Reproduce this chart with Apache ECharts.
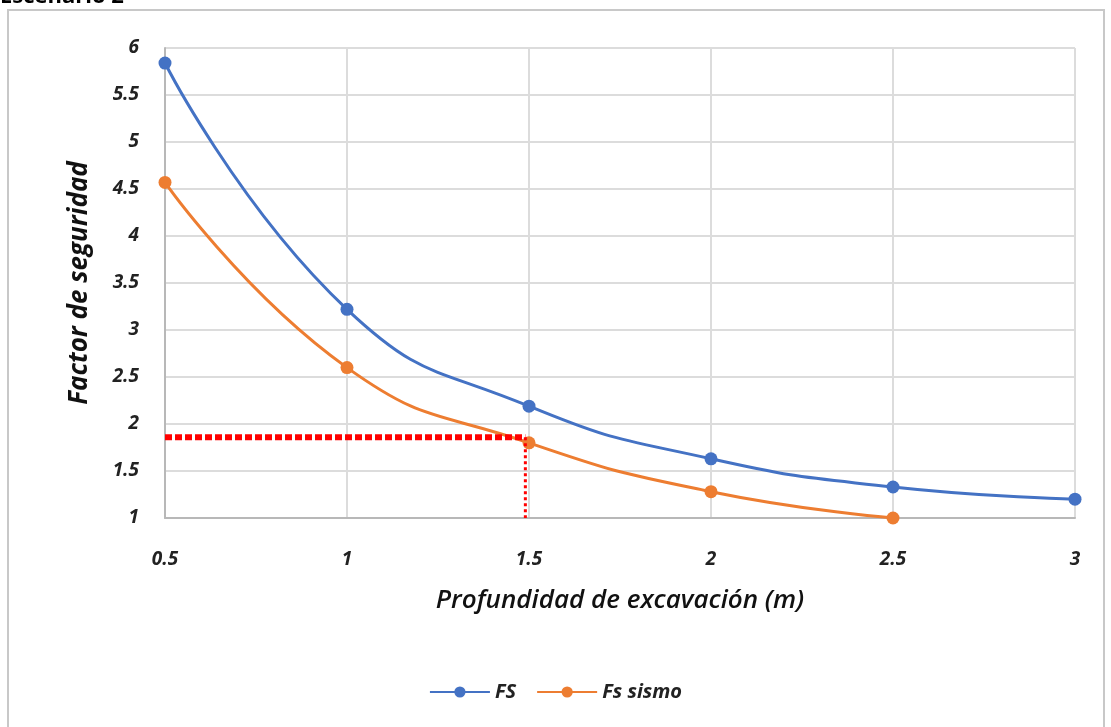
<!DOCTYPE html>
<html><head><meta charset="utf-8">
<script src="https://cdn.jsdelivr.net/npm/echarts@6/dist/echarts.min.js"></script>
<style>html,body{margin:0;padding:0;background:#fff}#c{width:1111px;height:727px}</style>
</head><body><div id="c"></div>
<script>
const depth = [0.5, 1, 1.5, 2, 2.5, 3];
const fs = [5.84, 3.22, 2.19, 1.63, 1.33, 1.20];
const fsSismoDepth = [0.5, 1, 1.5, 2, 2.5];
const fsSismo = [4.57, 2.60, 1.80, 1.28, 1.00];
const refH = [[0.5, 1.86], [1.49, 1.86]];
const refV = [[1.49, 1.86], [1.49, 1.0]];

const font = '"Open Sans", "Noto Sans", sans-serif';
const chart = echarts.init(document.getElementById('c'));
chart.setOption({
  animation: false,
  backgroundColor: '#fff',
  graphic: [
    { type: 'rect', shape: { x: 8, y: 10, width: 1096, height: 730 }, style: { fill: 'none', stroke: '#c8c8c8', lineWidth: 2 }, z: -1 },
    { type: 'text', left: 0, top: -14, style: { text: 'Escenario 2', font: 'bold 22px ' + font, fill: '#000' } }
  ],
  legend: {
    bottom: 20, left: 'center', itemWidth: 60, itemHeight: 14, itemGap: 20,
    textStyle: { fontFamily: font, fontStyle: 'italic', fontWeight: 'bold', fontSize: 20, color: '#222' },
    data: ['FS', 'Fs sismo']
  },
  grid: { left: 165, right: 36, top: 48, bottom: 209, containLabel: false },
  xAxis: {
    type: 'value', min: 0.5, max: 3, interval: 0.5,
    name: 'Profundidad de excavación (m)', nameLocation: 'middle', nameGap: 70,
    nameTextStyle: { fontFamily: font, fontStyle: 'italic', fontWeight: 600, fontSize: 26, color: '#111' },
    axisLine: { lineStyle: { color: '#b8b8b8', width: 2 } },
    axisTick: { show: false },
    axisLabel: { margin: 32, fontFamily: font, fontStyle: 'italic', fontWeight: 'bold', fontSize: 19, color: '#222' },
    splitLine: { show: true, lineStyle: { color: '#dcdcdc', width: 2 } }
  },
  yAxis: {
    type: 'value', min: 1, max: 6, interval: 0.5,
    name: 'Factor de seguridad', nameLocation: 'middle', nameGap: 72,
    nameTextStyle: { fontFamily: font, fontStyle: 'italic', fontWeight: 'bold', fontSize: 26, color: '#111' },
    axisLine: { show: true, lineStyle: { color: '#b8b8b8', width: 2 } },
    axisTick: { show: false },
    axisLabel: { margin: 26, fontFamily: font, fontStyle: 'italic', fontWeight: 'bold', fontSize: 19, color: '#222' },
    splitLine: { show: true, lineStyle: { color: '#dcdcdc', width: 2 } }
  },
  series: [
    {
      name: 'FS', type: 'line', smooth: true, symbol: 'circle', symbolSize: 13,
      data: depth.map((d, i) => [d, fs[i]]),
      itemStyle: { color: '#4472C4' }, lineStyle: { color: '#4472C4', width: 3 }, z: 3
    },
    {
      name: 'Fs sismo', type: 'line', smooth: true, symbol: 'circle', symbolSize: 13,
      data: fsSismoDepth.map((d, i) => [d, fsSismo[i]]),
      itemStyle: { color: '#ED7D31' }, lineStyle: { color: '#ED7D31', width: 3 }, z: 3
    },
    {
      name: 'refH', type: 'line', symbol: 'none', data: refH, silent: true,
      lineStyle: { color: '#ff0000', width: 6, type: [7, 3] }, z: 4
    },
    {
      name: 'refV', type: 'line', symbol: 'none', data: refV, silent: true,
      lineStyle: { color: '#ff0000', width: 3, type: [3, 3] }, z: 4
    }
  ]
});
</script></body></html>
